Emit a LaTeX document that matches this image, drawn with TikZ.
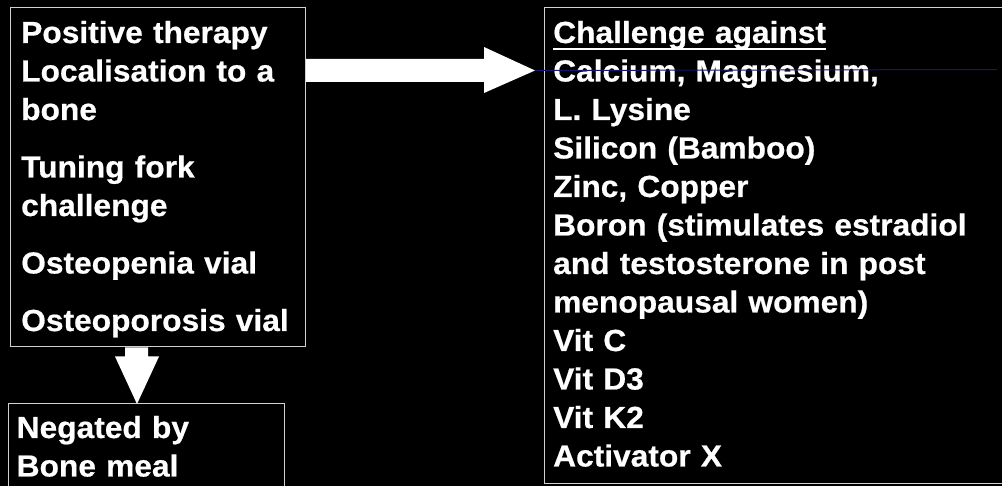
\documentclass[tikz,border=0pt]{standalone}
\usepackage{fontspec}
\setmainfont{Liberation Sans}[FakeStretch=1.04, BoldFeatures={FakeBold=0.6}]
\usepackage{tikz}
\usetikzlibrary{calc}
\definecolor{rim}{gray}{0.82}
\definecolor{guide}{RGB}{22,22,110}
\tikzstyle{panel}=[draw=rim, line width=1pt, inner sep=0pt, anchor=north west]
\tikzstyle{words}=[text=white, inner sep=0pt, anchor=base west, align=left, font=\bfseries\fontsize{30.5}{38.5}\selectfont]
\tikzstyle{block}=[fill=white, draw=none]
\newcommand{\ulhead}[1]{\setbox0\hbox{#1}\rlap{\rule[-7.5pt]{\wd0}{2.5pt}}#1}

\begin{document}
\begin{tikzpicture}[x=1pt,y=-1pt]
\fill[black] (0,0) rectangle (1002,486);
\useasboundingbox (0,0) rectangle (1002,486);
\node[panel, minimum width=295pt, minimum height=339.5pt] (therapy) at (10,7) {};
\node[panel, minimum width=460pt, minimum height=476pt] (challenge) at (544,7) {};
\node[panel, minimum width=276pt, minimum height=100pt] (negated) at (8,403) {};
\node[words, text width=290pt] (therapytxt) at ($(therapy.north west)+(11,36)$)
  {Positive therapy\\Localisation to a\\bone\\[19pt]Tuning fork\\challenge\\[19pt]Osteopenia vial\\[19pt]Osteoporosis vial};
\node[words, text width=445pt] (challengetxt) at ($(challenge.north west)+(9,36)$)
  {\ulhead{Challenge against}\\Calcium, Magnesium,\\L. Lysine\\Silicon (Bamboo)\\Zinc, Copper\\Boron (stimulates estradiol\\and testosterone in post\\menopausal women)\\Vit C\\Vit D3\\Vit K2\\Activator X};
\node[words, text width=270pt] (negatedtxt) at ($(negated.north west)+(8.5,35)$)
  {Negated by\\Bone meal};
\coordinate (rtip) at ($(challenge.north west)+(-9,63.5)$);
\coordinate (dtip) at ($(negated.north west)+(129,1)$);
\coordinate (guideend) at (997,69.5);
\fill[block] ($(therapy.north east)+(0,52)$) -- ++(178,0) -- ++(0,-12) -- (rtip)
  -- ($(therapy.north east)+(178,86)$) -- ++(0,-11) -- ($(therapy.north east)+(0,75)$) -- cycle;
\fill[block] ($(therapy.south west)+(115,0)$) -- ++(23,0) -- ++(0,9) -- ++(11,0) -- (dtip)
  -- ($(therapy.south west)+(105,9)$) -- ++(10,0) -- cycle;
\draw[guide, line width=1pt] (rtip) -- (guideend);
\end{tikzpicture}
\end{document}
